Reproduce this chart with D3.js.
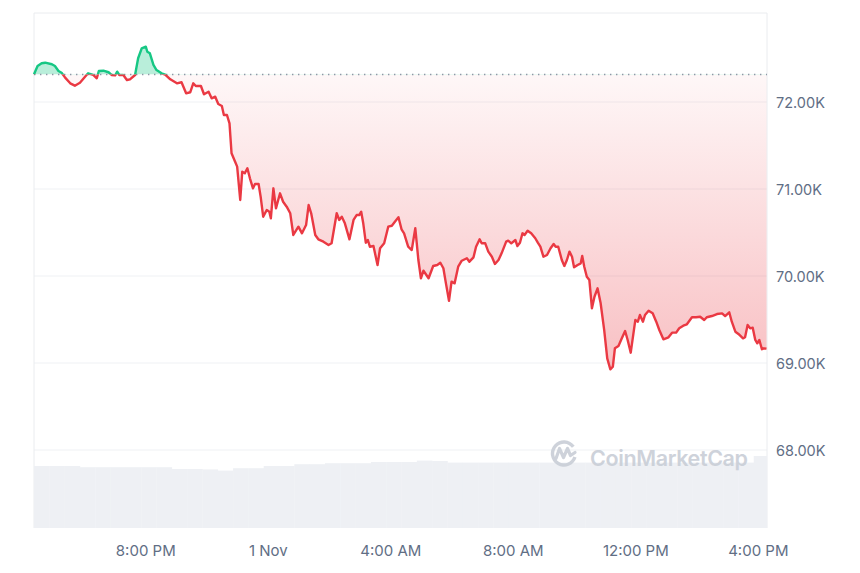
<!DOCTYPE html>
<html><head><meta charset="utf-8">
<script src="https://cdn.jsdelivr.net/npm/d3@7"></script>
<style>
body{margin:0;background:#fff;}
svg{display:block;font-family:Inter,"Noto Sans",sans-serif;}
</style>
</head><body>
<svg id="chart" width="860" height="573"></svg>
<script>
// ---------- DATA ----------
const startTime = new Date(2024, 9, 31, 16, 22);
// minutes after startTime for each price sample
const minutes = [
  0,7,15,22,35,41,48,54,61,71,
  80,90,100,106,116,123,127,136,146,152,
  159,163,167,175,182,188,198,204,211,219,
  222,227,234,240,250,257,267,280,289,298,
  306,312,317,327,333,342,348,355,361,368,
  372,378,383,387,394,398,404,408,413,418,
  423,429,433,440,444,449,456,461,464,469,
  474,482,488,495,502,508,518,525,533,538,
  543,551,557,567,577,583,593,598,603,609,
  618,626,632,637,641,645,650,654,658,665,
  673,678,686,694,701,707,714,720,725,733,
  740,747,753,758,763,773,782,790,796,802,
  807,813,818,824,831,838,848,853,861,866,
  873,877,884,890,897,903,910,916,925,929,
  935,943,947,952,957,961,967,974,982,987,
  992,998,1005,1012,1018,1022,1027,1034,1039,1044,
  1049,1054,1058,1065,1071,1074,1078,1083,1088,1093,
  1098,1104,1110,1117,1123,1129,1134,1138,1145,1152,
  1158,1163,1169,1178,1183,1187,1193,1197,1204,1212,
  1219,1225,1233,1243,1250,1258,1264,1272,1279,1289,
  1297,1305,1313,1318,1328,1338,1348,1354,1362,1367,
  1374,1380,1389,1393,1398,1403,1408,1413,1417,1421,
  1426,1430,1435
];
const prices = [
  72313,72408,72439,72446,72428,72408,72351,72331,72274,72209,
  72182,72216,72285,72324,72305,72267,72351,72354,72336,72305,
  72301,72343,72305,72305,72247,72255,72305,72497,72611,72630,
  72572,72554,72420,72362,72324,72310,72255,72209,72221,72094,
  72106,72209,72178,72178,72083,72113,72037,72055,71971,71948,
  71845,71845,71749,71405,71308,71251,70868,71193,71175,71232,
  71117,71002,71052,71052,70906,70676,70753,70733,70657,71002,
  70772,70945,70848,70791,70715,70466,70561,70485,70580,70810,
  70715,70466,70416,70389,70351,70370,70715,70638,70676,70600,
  70416,70638,70695,70695,70733,70600,70377,70408,70331,70339,
  70121,70313,70370,70561,70572,70618,70669,70531,70485,70331,
  70293,70543,70178,69968,70055,69968,70109,70121,70147,70083,
  69910,69710,69929,69910,70101,70170,70198,70159,70209,70331,
  70416,70370,70370,70274,70216,70132,70178,70255,70389,70400,
  70370,70408,70339,70377,70485,70466,70515,70485,70428,70377,
  70331,70216,70236,70313,70362,70331,70331,70178,70109,70178,
  70274,70216,70094,70121,70140,70224,70101,69986,69948,69623,
  69756,69853,69684,69374,69048,68922,68952,69163,69190,69285,
  69362,69259,69113,69488,69469,69546,69469,69546,69595,69565,
  69469,69374,69267,69290,69343,69343,69393,69423,69439,69520,
  69520,69526,69488,69520,69534,69557,69565,69534,69577,69469,
  69354,69328,69278,69290,69431,69393,69400,69259,69221,69259,
  69152,69163,69160
];
const baselinePrice = 72310;
const yTicks = [68000, 69000, 70000, 71000, 72000];
const xTickTimes = [
  new Date(2024, 9, 31, 20, 0), new Date(2024, 10, 1, 0, 0),
  new Date(2024, 10, 1, 4, 0), new Date(2024, 10, 1, 8, 0),
  new Date(2024, 10, 1, 12, 0), new Date(2024, 10, 1, 16, 0)
];
const xTickLabels = ["8:00 PM", "1 Nov", "4:00 AM", "8:00 AM", "12:00 PM", "4:00 PM"];
const volumeStepMinutes = 30;
// volume (billions) per 30 minute bucket
const volumes = [
  31.0,31.0,31.0,30.4,30.4,30.4,30.4,30.4,30.4,29.5,
  29.5,29.3,28.7,29.9,29.9,31.0,31.0,31.9,31.9,32.4,
  32.4,32.4,33.0,33.0,33.0,33.7,33.5,32.7,32.7,32.7,
  32.7,32.7,32.7,32.7,32.7,32.7,32.7,32.7,32.7,32.7,
  32.7,32.7,32.7,32.7,32.7,32.7,32.7,36.0
];

// ---------- CHART ----------
const pLeft = 34, pRight = 767, pTop = 13, pBottom = 528;
const svg = d3.select("#chart");
const toDate = m => new Date(startTime.getTime() + m * 60000);
const data = minutes.map((m, i) => ({t: toDate(m), p: prices[i]}));

const x = d3.scaleTime().domain([toDate(0), toDate(1435)]).range([pLeft, 766.5]);
const y = d3.scaleLinear().domain([68000, 72000]).range([449.5, 101.5]);
const yVol = d3.scaleLinear().domain([0, 40]).range([pBottom, 448]);
const yb = y(baselinePrice);

const defs = svg.append("defs");
defs.append("clipPath").attr("id", "plot").append("rect")
  .attr("x", pLeft).attr("y", pTop).attr("width", pRight - pLeft).attr("height", pBottom - pTop);
defs.append("clipPath").attr("id", "above").append("rect")
  .attr("x", pLeft - 2).attr("y", pTop).attr("width", pRight - pLeft + 4).attr("height", yb - pTop);
defs.append("clipPath").attr("id", "below").append("rect")
  .attr("x", pLeft - 2).attr("y", yb).attr("width", pRight - pLeft + 4).attr("height", pBottom - yb);
const grad = defs.append("linearGradient").attr("id", "redGrad")
  .attr("gradientUnits", "userSpaceOnUse").attr("x1", 0).attr("x2", 0)
  .attr("y1", yb).attr("y2", y(68900));
grad.append("stop").attr("offset", 0).attr("stop-color", "#ea3943").attr("stop-opacity", 0.04);
grad.append("stop").attr("offset", 1).attr("stop-color", "#ea3943").attr("stop-opacity", 0.32);

// grid lines
svg.append("g").attr("transform", `translate(${pRight},0)`)
  .call(d3.axisLeft(y).tickValues(yTicks).tickSize(pRight - pLeft).tickFormat(""))
  .call(g => g.select(".domain").remove())
  .call(g => g.selectAll("line").attr("stroke", "#eff1f4"));

// frame (top, left, right)
svg.append("path")
  .attr("d", `M${pLeft},${pBottom}V${pTop}H${pRight}V${pBottom}`)
  .attr("fill", "none").attr("stroke", "#eaecef").attr("stroke-width", 1);

// volume bars
svg.append("g").attr("clip-path", "url(#plot)")
  .selectAll("rect").data(volumes).join("rect")
  .attr("x", (d, i) => x(toDate(i * volumeStepMinutes)))
  .attr("width", (d, i) => x(toDate((i + 1) * volumeStepMinutes)) - x(toDate(i * volumeStepMinutes)) + 0.3)
  .attr("y", d => yVol(d))
  .attr("height", d => pBottom - yVol(d))
  .attr("fill", "#eef0f4");

// watermark
const wm = svg.append("g").attr("opacity", 0.9);
const lc = [564, 453.5], lr = 11.5;
const arc = d3.arc().innerRadius(lr - 1.7).outerRadius(lr + 1.7)
  .startAngle(Math.PI * 0.6).endAngle(Math.PI * 2.3);
wm.append("path").attr("transform", `translate(${lc[0]},${lc[1]})`).attr("d", arc()).attr("fill", "#c9ced7");
wm.append("path")
  .attr("d", `M${lc[0]-8},${lc[1]+5} L${lc[0]-4.5},${lc[1]-5} L${lc[0]-0.5},${lc[1]+4} L${lc[0]+3.5},${lc[1]-5} L${lc[0]+6.5},${lc[1]+2} L${lc[0]+11},${lc[1]-1}`)
  .attr("fill", "none").attr("stroke", "#c9ced7").attr("stroke-width", 3.2)
  .attr("stroke-linejoin", "round").attr("stroke-linecap", "round");
wm.append("text").attr("x", 590).attr("y", 466)
  .attr("font-size", 21.5).attr("font-weight", 600).attr("fill", "#c9ced7")
  .attr("textLength", 158).attr("lengthAdjust", "spacing")
  .text("CoinMarketCap");

// areas
const area = d3.area().x(d => x(d.t)).y0(yb).y1(d => y(d.p));
svg.append("path").datum(data).attr("d", area).attr("clip-path", "url(#above)")
  .attr("fill", "#16c784").attr("fill-opacity", 0.3);
svg.append("path").datum(data).attr("d", area).attr("clip-path", "url(#below)")
  .attr("fill", "url(#redGrad)");

// baseline dotted line
svg.append("line").attr("x1", pLeft).attr("x2", pRight).attr("y1", yb).attr("y2", yb)
  .attr("stroke", "#8e97a6").attr("stroke-width", 1.4).attr("stroke-dasharray", "1.4 4.6");

// lines
const line = d3.line().x(d => x(d.t)).y(d => y(d.p));
svg.append("path").datum(data).attr("d", line).attr("clip-path", "url(#above)")
  .attr("fill", "none").attr("stroke", "#16c784").attr("stroke-width", 2.4)
  .attr("stroke-linejoin", "round");
svg.append("path").datum(data).attr("d", line).attr("clip-path", "url(#below)")
  .attr("fill", "none").attr("stroke", "#ea3943").attr("stroke-width", 2.4)
  .attr("stroke-linejoin", "round");

// y axis labels
svg.append("g").attr("transform", `translate(${pRight},0)`)
  .call(d3.axisRight(y).tickValues(yTicks).tickSize(0).tickPadding(9)
    .tickFormat(d => (d / 1000).toFixed(2) + "K"))
  .call(g => g.select(".domain").remove())
  .call(g => g.selectAll("text").attr("font-size", 14.5).attr("fill", "#616e85")
    .attr("font-family", "Inter, sans-serif").attr("dy", "0.4em"));

// x axis labels
svg.append("g").attr("transform", `translate(0,545)`)
  .call(d3.axisBottom(x).tickValues(xTickTimes).tickSize(0).tickPadding(0)
    .tickFormat((d, i) => xTickLabels[i]))
  .call(g => g.select(".domain").remove())
  .call(g => g.selectAll("text").attr("font-size", 15).attr("fill", "#616e85")
    .attr("font-family", "Inter, sans-serif"));
</script>
</body></html>
